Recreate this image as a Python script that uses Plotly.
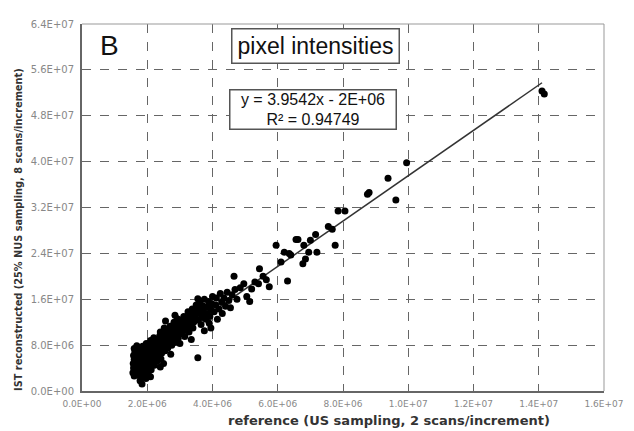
import numpy as np
import plotly.graph_objects as go

# data in millions
ref_x = [
 1.56,1.58,1.57,1.6,1.58,1.62,1.6,1.65,1.66,1.64,1.67,1.65,1.7,1.68,1.72,1.74,1.7,1.73,1.75,1.72,1.6,1.63,
 1.78,1.8,1.82,1.79,1.83,1.8,1.85,1.82,1.86,1.84,1.9,1.92,1.88,1.93,1.9,1.95,1.92,1.97,1.98,2.0,2.0,1.96,
 2.03,2.05,2.07,2.04,2.08,2.06,2.1,2.12,2.14,2.15,2.13,2.17,2.18,2.2,2.22,2.24,2.25,2.23,2.27,2.28,2.3,2.1,
 2.33,2.35,2.32,2.37,2.38,2.4,2.42,2.44,2.45,2.47,2.48,2.5,2.52,2.55,2.56,2.58,2.6,2.57,2.56,2.5,2.4,
 2.63,2.65,2.67,2.68,2.7,2.72,2.75,2.77,2.78,2.8,2.82,2.85,2.87,2.88,2.9,2.92,2.95,2.97,2.98,3.0,2.85,3.0,
 3.05,3.08,3.1,3.12,3.15,3.18,3.2,3.22,3.25,3.28,3.3,3.32,3.35,3.38,3.4,3.42,3.45,3.47,3.5,3.35,3.55,3.55,
 3.55,3.58,3.6,3.62,3.65,3.68,3.7,3.72,3.75,3.8,3.82,3.85,3.88,3.9,3.92,3.95,3.98,4.0,3.75,3.95,
 4.05,4.1,4.12,4.15,4.2,4.24,4.28,4.3,4.35,4.4,4.45,4.5,4.55,4.6,
 4.66,4.69,4.75,4.85,4.96,5.05,5.14,5.2,5.41,5.44,5.65,5.74,5.3,5.55,
 5.95,6.3,6.35,6.4,6.56,6.62,6.77,6.95,7.0,7.16,6.1,6.2,6.8,7.2,6.85,7.76,
 7.55,7.67,7.85,8.06,8.75,8.8,9.38,9.62,9.95,14.17,14.1,
]
ist_y = [
 3.2,4.0,4.8,5.5,6.2,6.8,7.4,3.6,4.4,5.1,5.9,6.5,7.2,7.9,2.8,3.9,4.6,5.3,6.1,6.7,2.6,3.0,
 1.8,2.4,3.3,4.2,5.0,5.7,6.4,7.1,7.8,1.2,2.9,3.8,4.6,5.4,6.0,6.8,7.5,8.3,4.1,5.0,6.2,2.2,
 3.2,4.4,5.6,6.5,7.2,8.0,8.8,3.7,4.9,6.0,6.9,7.7,8.5,9.3,4.5,5.5,6.5,7.4,8.2,9.0,5.2,2.5,
 6.0,7.0,7.9,8.7,9.6,10.3,5.6,6.6,7.6,8.4,9.2,10.0,11.0,7.0,8.1,9.0,9.8,10.6,12.2,4.8,4.2,
 7.5,8.6,9.5,10.4,11.3,6.4,8.0,9.0,10.0,11.0,12.0,8.5,9.6,10.7,11.6,12.6,9.2,10.3,11.3,12.4,13.2,8.3,
 10.0,11.0,12.0,13.0,9.5,10.6,11.6,12.7,13.8,10.3,11.3,12.3,13.3,14.3,11.0,12.0,13.0,14.0,15.0,9.0,5.8,16.1,
 12.4,13.5,14.5,15.5,11.6,12.8,13.8,14.8,16.0,12.5,13.5,14.6,15.6,11.8,13.0,14.2,15.2,16.5,10.5,11.0,
 13.8,15.0,16.2,12.5,14.3,17.0,15.5,13.5,16.2,14.8,17.2,15.8,14.5,16.8,
 20.0,17.7,16.0,18.0,18.7,16.5,15.6,17.8,18.7,21.3,19.4,18.2,19.0,20.0,
 25.4,19.2,24.0,23.7,26.4,26.4,22.2,24.2,26.3,27.3,22.5,24.2,25.4,24.2,23.0,25.4,
 28.7,28.2,31.4,31.4,34.3,34.6,37.1,33.3,39.8,51.8,52.3,
]
slope = 3.9542
intercept = -2e6
x_ticks = [0, 2e6, 4e6, 6e6, 8e6, 1e7, 1.2e7, 1.4e7, 1.6e7]
x_ticktext = ["0.0E+00", "2.0E+06", "4.0E+06", "6.0E+06", "8.0E+06", "1.0E+07", "1.2E+07", "1.4E+07", "1.6E+07"]
y_ticks = [0, 8e6, 1.6e7, 2.4e7, 3.2e7, 4.0e7, 4.8e7, 5.6e7, 6.4e7]
y_ticktext = ["0.0E+00", "8.0E+06", "1.6E+07", "2.4E+07", "3.2E+07", "4.0E+07", "4.8E+07", "5.6E+07", "6.4E+07"]

xs = np.array(ref_x) * 1e6
ys = np.array(ist_y) * 1e6
lx = np.array([1.55e6, 1.41e7])
ly = slope * lx + intercept

fig = go.Figure()
fig.add_trace(go.Scatter(x=lx, y=ly, mode="lines", line=dict(color="#333333", width=1.5),
                         showlegend=False, hoverinfo="skip"))
fig.add_trace(go.Scatter(x=xs, y=ys, mode="markers",
                         marker=dict(color="black", size=7, symbol="circle"), showlegend=False))

axis_common = dict(showgrid=True, gridcolor="#666666", griddash="dash", gridwidth=1.2,
                   zeroline=False, ticks="", mirror=False)
fig.update_xaxes(range=[0, 1.6e7], tickvals=x_ticks, ticktext=x_ticktext, ticklabelstandoff=3,
                 tickfont=dict(family="DejaVu Sans", size=9, color="#888888"),
                 showline=True, linecolor="#666666", linewidth=2, **axis_common)
fig.update_yaxes(range=[0, 6.4e7], tickvals=y_ticks, ticktext=y_ticktext, ticklabelstandoff=4,
                 tickfont=dict(family="DejaVu Sans", size=10, color="#888888"),
                 showline=True, linecolor="#666666", linewidth=2, **axis_common)

shapes = [
    dict(type="line", xref="paper", yref="paper", x0=0, x1=1, y0=1, y1=1,
         line=dict(color="#999999", width=1)),
    dict(type="line", xref="paper", yref="paper", x0=1, x1=1, y0=0, y1=1,
         line=dict(color="#999999", width=1)),
]
fig.update_layout(shapes=shapes)

fig.add_annotation(x=0.031, y=0.99, xref="paper", yref="paper", text="B", showarrow=False,
                   xanchor="left", yanchor="top",
                   font=dict(family="Liberation Sans", size=28, color="#111111"))
fig.add_annotation(x=0.286, y=0.99, xref="paper", yref="paper", text="pixel intensities",
                   showarrow=False, xanchor="left", yanchor="top", width=162, height=29,
                   font=dict(family="Liberation Sans", size=23, color="#111111"),
                   bordercolor="#555555", borderwidth=1.5, borderpad=2, bgcolor="white")
fig.add_annotation(x=0.442, y=0.823, xref="paper", yref="paper",
                   text="y = 3.9542x - 2E+06<br>R² = 0.94749",
                   showarrow=False, xanchor="center", yanchor="top", align="center",
                   width=163, height=36,
                   font=dict(family="Liberation Sans", size=16, color="#111111"),
                   bordercolor="#555555", borderwidth=1.5, borderpad=1, bgcolor="white")

fig.add_annotation(x=(395 - 82) / 532, y=-(421 - 391) / 373, xref="paper", yref="paper",
                   text="<b>reference (US sampling, 2 scans/increment)</b>", showarrow=False,
                   xanchor="center", yanchor="middle",
                   font=dict(family="DejaVu Sans", size=13, color="#333333"))
fig.add_annotation(x=-0.122, y=(391 - 227) / 373, xref="paper", yref="paper",
                   text="<b>IST reconstructed (25% NUS sampling, 8 scans/increment)</b>",
                   showarrow=False, textangle=-90, xanchor="center", yanchor="middle",
                   font=dict(family="DejaVu Sans", size=9.8, color="#333333"))

# page body has an 8px default margin, so the figure is sized and offset accordingly
fig.update_layout(width=626, height=423, margin=dict(l=74, r=20, t=10, b=40),
                  plot_bgcolor="white", paper_bgcolor="white")
fig.write_html("out.html")
